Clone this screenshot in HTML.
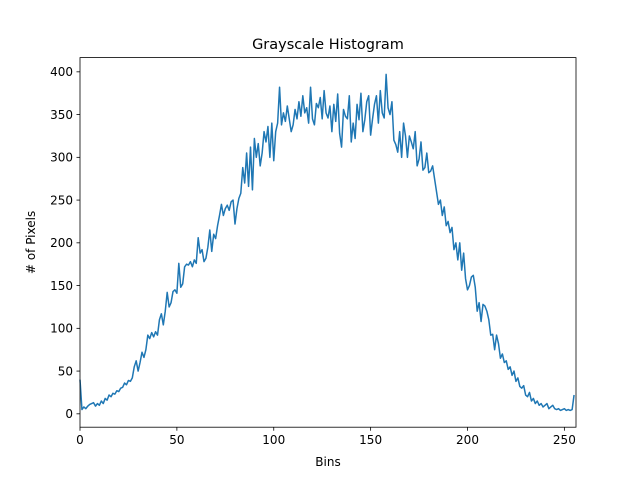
<!DOCTYPE html>
<html><head><meta charset="utf-8"><style>
body{margin:0;background:#fff;}
svg text{font-family:"DejaVu Sans","Liberation Sans",sans-serif;}
</style></head><body>
<svg id="chart" width="640" height="480" xmlns="http://www.w3.org/2000/svg"></svg>
<script>
const counts = [
40,5,8,6,9,11,12,13,9,12,10,15,12,18,16,22,20,24,23,27,26,30,31,36,34,39,38,42,55,62,
50,60,72,66,75,92,88,95,90,96,92,110,117,104,120,142,125,130,143,145,141,176,148,152,
172,175,174,178,172,180,176,206,188,192,178,182,195,215,190,210,205,220,232,245,
232,240,244,238,248,250,222,240,252,258,288,270,305,266,312,262,322,300,316,290,305,
330,318,336,300,340,296,330,340,382,338,352,342,360,345,330,338,356,345,365,348,372,
352,358,340,382,345,338,363,358,370,345,378,352,346,360,330,362,342,374,328,312,356,
348,345,372,318,340,322,362,344,375,330,344,365,372,326,345,362,372,340,378,352,346,
397,358,350,365,320,315,306,330,300,340,325,300,325,318,310,330,290,298,318,285,288,
305,282,284,290,275,260,245,250,232,242,220,225,212,218,192,200,180,200,168,188,158,145,150,
160,162,148,120,130,108,128,126,120,110,92,93,75,92,82,65,70,60,62,52,55,45,50,38,
42,32,30,33,22,20,25,15,18,12,15,10,12,8,10,12,6,8,10,6,5,6,4,5,6,4,5,4,5,22
];
const xTicks = [0,50,100,150,200,250];
const yTicks = [0,50,100,150,200,250,300,350,400];

const NS="http://www.w3.org/2000/svg";
const svg=document.getElementById('chart');
const L=80,R=576,T=57.6,B=427.2;
const xmin=0,xmax=256;
const dmin=Math.min(...counts),dmax=Math.max(...counts),m=(dmax-dmin)*0.05;
const ymin=dmin-m,ymax=dmax+m;
const xs=v=>L+(v-xmin)/(xmax-xmin)*(R-L);
const ys=v=>B-(v-ymin)/(ymax-ymin)*(B-T);
function mk(tag,attrs,parent){const e=document.createElementNS(NS,tag);for(const k in attrs)e.setAttribute(k,attrs[k]);(parent||svg).appendChild(e);return e;}

const line=mk('polyline',{points:counts.map((v,i)=>xs(i).toFixed(2)+','+ys(v).toFixed(2)).join(' '),fill:'none',stroke:'#1f77b4','stroke-width':1.5,'stroke-linejoin':'round'});



const frame=mk('rect',{x:L,y:T,width:R-L,height:B-T,fill:'none',stroke:'#000','stroke-width':0.8});



xTicks.forEach(t=>{
  const x=xs(t);
  const tk=mk('line',{x1:x,x2:x,y1:B,y2:B+3.5,stroke:'#000','stroke-width':0.8});
  
  
  const lb=mk('text',{x:x,y:B+17,'text-anchor':'middle','font-size':12});
  lb.textContent=t;
  
  
});
yTicks.forEach(t=>{
  const y=ys(t);
  const tk=mk('line',{x1:L-3.5,x2:L,y1:y,y2:y,stroke:'#000','stroke-width':0.8});
  
  
  const lb=mk('text',{x:L-7,y:y+4.4,'text-anchor':'end','font-size':12});
  lb.textContent=t;
  
  
});
const title=mk('text',{x:(L+R)/2,y:49,'text-anchor':'middle','font-size':14.5});
title.textContent='Grayscale Histogram';


const xl=mk('text',{x:(L+R)/2,y:466,'text-anchor':'middle','font-size':12});
xl.textContent='Bins';


const yl=mk('text',{x:35,y:(T+B)/2,'text-anchor':'middle','font-size':12,transform:'rotate(-90 35 '+((T+B)/2)+')'});
yl.textContent='# of Pixels';


</script>
</body></html>
